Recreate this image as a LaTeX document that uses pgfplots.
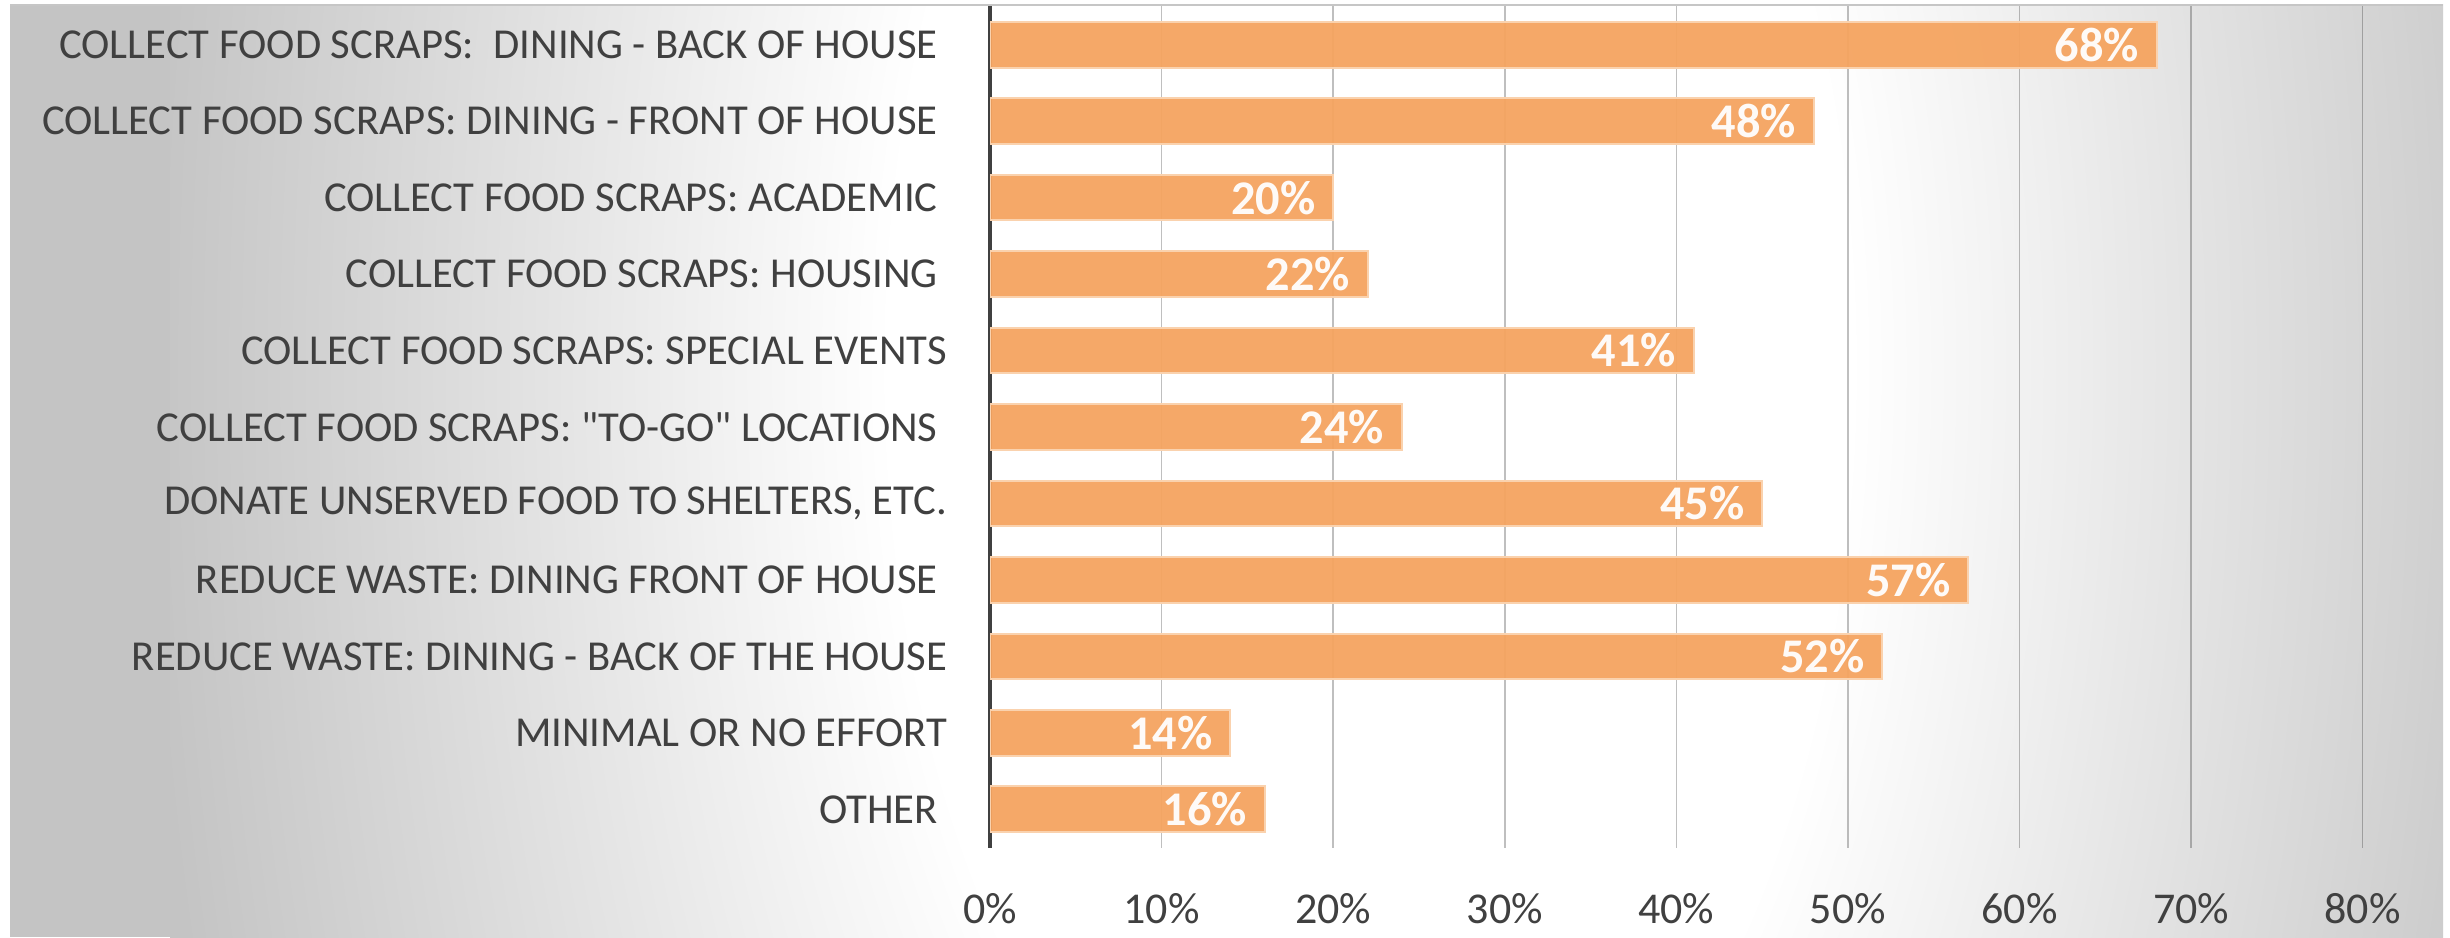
\documentclass[border=0pt]{standalone}
\usepackage{pgfplots}
\pgfplotsset{compat=1.18}
\usepackage{fontspec}
\setmainfont{Carlito}[Ligatures=TeXOff]
\definecolor{txt}{HTML}{404040}
\definecolor{barc}{HTML}{F5A460}
\definecolor{barb}{HTML}{FAD2AE}
\definecolor{bgA}{HTML}{C4C4C4}
\definecolor{bgB}{HTML}{E4E4E4}
% the central 50bp square of the shading is stretched to the path's bounding box
\pgfdeclareradialshading{bgshade}{\pgfpoint{0bp}{0bp}}{color(0bp)=(white); color(10bp)=(white); color(17bp)=(bgB); color(25.5bp)=(bgA); color(50bp)=(bgA)}
\begin{document}
\begin{tikzpicture}
\useasboundingbox (0,0) rectangle (735pt,281.1pt);
\fill[white] (0,0) rectangle (735pt,281.1pt);
% background gradient: centre at (1370px, 350px from top), Rx=1200px, Ry=2200px; 0.3pt per px
\begin{scope}
\clip (3pt,0pt) rectangle (732.9pt,279.6pt);
\fill[bgA] (3pt,0pt) rectangle (732.9pt,279.6pt);
\shade[shading=bgshade] (51pt,-489pt) rectangle (771pt,831pt);
\end{scope}
\draw[gray!45, line width=0.6pt] (3pt,279.6pt) -- (732.9pt,279.6pt);
\begin{axis}[
  at={(297pt,26.8pt)}, anchor=south west,
  scale only axis, width=432.4pt, height=252.4pt,
  xbar, bar width=0.6, bar shift=0pt,
  xmin=0, xmax=84, ymin=-0.5, ymax=10.5,
  xtick={0,10,...,80}, ytick={0,...,10},
  yticklabels={OTHER\hspace*{0.226em},
    MINIMAL OR NO EFFORT,
    REDUCE WASTE: DINING - BACK OF THE HOUSE,
    REDUCE WASTE: DINING FRONT OF HOUSE\hspace*{0.226em},
    {DONATE UNSERVED FOOD TO SHELTERS, ETC.},
    COLLECT FOOD SCRAPS: "TO-GO" LOCATIONS\hspace*{0.226em},
    COLLECT FOOD SCRAPS: SPECIAL EVENTS,
    COLLECT FOOD SCRAPS: HOUSING\hspace*{0.226em},
    COLLECT FOOD SCRAPS: ACADEMIC\hspace*{0.226em},
    COLLECT FOOD SCRAPS: DINING - FRONT OF HOUSE\hspace*{0.226em},
    COLLECT FOOD SCRAPS:\ \ DINING - BACK OF HOUSE\hspace*{0.226em}},
  /pgf/number format/assume math mode=true,
  xticklabel={\pgfmathprintnumber{\tick}\%},
  separate axis lines,
  axis x line*=bottom, axis y line*=left,
  x axis line style={draw=none},
  y axis line style={draw=txt, line width=1.2pt, -},
  major tick length=0pt, tick style={draw=none},
  xmajorgrids, ymajorgrids=false,
  grid style={draw=black, opacity=0.25, line width=0.45pt},
  yticklabel style={font=\fontsize{12.8}{15}\selectfont, text=txt, inner sep=0pt, xshift=-12.6pt},
  xticklabel style={font=\fontsize{13.2}{15}\selectfont, text=txt, inner sep=0pt, anchor=north, yshift=-13.6pt},
  point meta=x,
  nodes near coords={\pgfmathprintnumber{\pgfplotspointmeta}\%},
  every node near coord/.append style={anchor=east, xshift=-5pt, inner sep=0pt, text=white, font=\bfseries\fontsize{14.5}{16}\selectfont},
]
\addplot[fill=barc, fill opacity=0.95, draw=barb, line width=0.6pt] coordinates {(16,0) (14,1) (52,2) (57,3) (45,4) (24,5) (41,6) (22,7) (20,8) (48,9) (68,10)};
\end{axis}
\end{tikzpicture}
\end{document}
